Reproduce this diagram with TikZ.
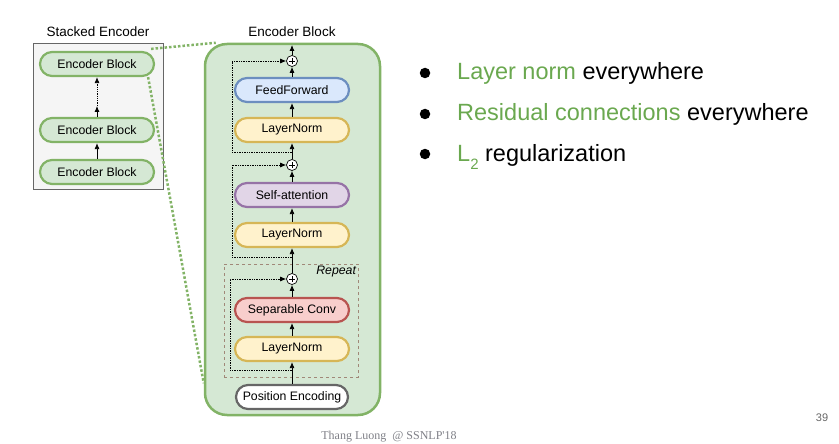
\documentclass[tikz,border=0pt]{standalone}
\usepackage{fontspec}
\setmainfont{Liberation Sans}
\newfontfamily\footfont{Liberation Serif}
\usepackage{xcolor}
\usetikzlibrary{arrows.meta,shapes,positioning,calc}

\definecolor{grfill}{HTML}{D5E8D4}
\definecolor{grline}{HTML}{82B366}
\definecolor{blfill}{HTML}{DAE8FC}
\definecolor{blline}{HTML}{6C8EBF}
\definecolor{yefill}{HTML}{FFF2CC}
\definecolor{yeline}{HTML}{D6B656}
\definecolor{pufill}{HTML}{E1D5E7}
\definecolor{puline}{HTML}{9673A6}
\definecolor{refill}{HTML}{F8CECC}
\definecolor{reline}{HTML}{B85450}
\definecolor{gyline}{HTML}{666666}
\definecolor{stfill}{HTML}{F5F5F5}
\definecolor{hlgreen}{HTML}{6AA84F}
\definecolor{rpline}{HTML}{A08878}
\definecolor{footgray}{HTML}{7F8087}

\newcommand{\lblfont}{\fontsize{12.3}{14}\selectfont}
\newcommand{\ttlfont}{\fontsize{13.5}{16}\selectfont}
\newcommand{\itemfont}{\fontsize{23.5}{28}\selectfont}

\begin{document}
\begin{tikzpicture}[x=1pt, y=-1pt, >={Latex[length=6pt,width=5pt]},
    block/.style={draw, rounded corners=12pt, minimum width=114pt, minimum height=24pt, line width=2.2pt, inner sep=0pt, font=\lblfont},
    encblock/.style={block, draw=grline, fill=grfill},
    ffblock/.style={block, draw=blline, fill=blfill},
    lnblock/.style={block, draw=yeline, fill=yefill},
    sablock/.style={block, draw=puline, fill=pufill},
    scblock/.style={block, draw=reline, fill=refill},
    peblock/.style={block, draw=gyline, fill=white, minimum width=112pt},
    plus/.style={circle, draw, fill=white, minimum size=11pt, inner sep=0pt, line width=0.7pt,
        path picture={\draw[line width=0.7pt]
            ([xshift=-3.2pt]path picture bounding box.center) -- ([xshift=3.2pt]path picture bounding box.center)
            ([yshift=-3.2pt]path picture bounding box.center) -- ([yshift=3.2pt]path picture bounding box.center);}},
    resid/.style={->, densely dotted, line width=0.7pt},
    zoomline/.style={draw=grline, line width=2.5pt, dotted},
    item/.style={anchor=base west, inner sep=0pt, font=\itemfont},
    dot/.style={circle, fill=black, minimum size=10.5pt, inner sep=0pt}]
    \useasboundingbox (0,0) rectangle (839,444);

    % Stacked encoder
    \node[font=\ttlfont] (stitle) at (98,32) {Stacked Encoder};
    \node[draw=gyline, fill=stfill, thin, minimum width=130pt, minimum height=146pt] (stack) at (98,116) {};
    \node[encblock] (eb1) at (97,172) {Encoder Block};
    \node[encblock] (eb2) at (97,130) {Encoder Block};
    \node[encblock] (eb3) at (97,64) {Encoder Block};
    \coordinate (gap) at (97,106);
    \draw[->, line width=0.8pt] (eb1) -- (eb2);
    \draw[->, line width=0.8pt] (eb2) -- (gap);
    \draw[->, densely dotted, line width=0.8pt] (gap) -- (eb3);

    % Encoder block
    \node[font=\ttlfont] (etitle) at (292,32) {Encoder Block};
    \node[draw=grline, fill=grfill, line width=2.5pt, rounded corners=22pt, minimum width=175pt, minimum height=371pt] (big) at (292.5,229.5) {};

    % Zoom lines
    \draw[zoomline] ([xshift=-4pt,yshift=2pt]eb3.north east) -- ([xshift=12pt]big.north west);
    \draw[zoomline] ([xshift=-7pt]eb3.south east) -- ([yshift=33pt]big.south west);

    % Repeat box
    \node[draw=rpline, dashed, thin, minimum width=134pt, minimum height=113pt] (rep) at (291,320.5) {};
    \node[anchor=north east, font=\lblfont\itshape, inner sep=2pt] (reptext) at (rep.north east) {Repeat};

    \node[peblock] (pe) at (292,397) {Position Encoding};
    \node[lnblock] (ln3) at (292,349) {LayerNorm};
    \node[scblock] (sc) at (292,310) {Separable Conv};
    \node[plus] (p3) at (292,279) {};
    \node[lnblock] (ln2) at (292,235) {LayerNorm};
    \node[sablock] (sa) at (292,195) {Self-attention};
    \node[plus] (p2) at (292,165) {};
    \node[lnblock] (ln1) at (292,130) {LayerNorm};
    \node[ffblock] (ff) at (292,90) {FeedForward};
    \node[plus] (p1) at (292,61) {};
    \coordinate (out) at (292,45);

    % Connect nodes
    \draw[->, line width=0.8pt] (pe) -- (ln3);
    \draw[->, line width=0.8pt] (ln3) -- (sc);
    \draw[->, line width=0.8pt] (sc) -- (p3);
    \draw[->, line width=0.8pt] (p3) -- (ln2);
    \draw[->, line width=0.8pt] (ln2) -- (sa);
    \draw[->, line width=0.8pt] (sa) -- (p2);
    \draw[->, line width=0.8pt] (p2) -- (ln1);
    \draw[->, line width=0.8pt] (ln1) -- (ff);
    \draw[->, line width=0.8pt] (ff) -- (p1);
    \draw[->, line width=0.8pt] (p1) -- (out);

    % Residuals
    \coordinate (r3) at (292,370);
    \coordinate (r2) at (292,257);
    \coordinate (r1) at (292,152);
    \draw[resid] (r3) -- ++(-62,0) |- (p3.west);
    \draw[resid] (r2) -- ++(-60,0) |- (p2.west);
    \draw[resid] (r1) -- ++(-60,0) |- (p1.west);

    % Bullets
    \node[dot] (d1) at (425,73) {};
    \node[dot] (d2) at (425,114) {};
    \node[dot] (d3) at (425,154) {};
    \node[item] (t1) at (457,80) {\textcolor{hlgreen}{Layer norm} everywhere};
    \node[item] (t2) at (457,120.5) {\textcolor{hlgreen}{Residual connections} everywhere};
    \node[item] (t3) at (457,161) {\textcolor{hlgreen}{L\raisebox{-8pt}{\fontsize{15}{17}\selectfont 2}} regularization};

    % Footer
    \node[font=\footfont\fontsize{12}{14}\selectfont, text=footgray] (foot) at (389,437) {Thang Luong\ \ @ SSNLP'18};
    \node[font=\fontsize{11}{13}\selectfont, text=gyline] (page) at (822,418) {39};
\end{tikzpicture}
\end{document}
